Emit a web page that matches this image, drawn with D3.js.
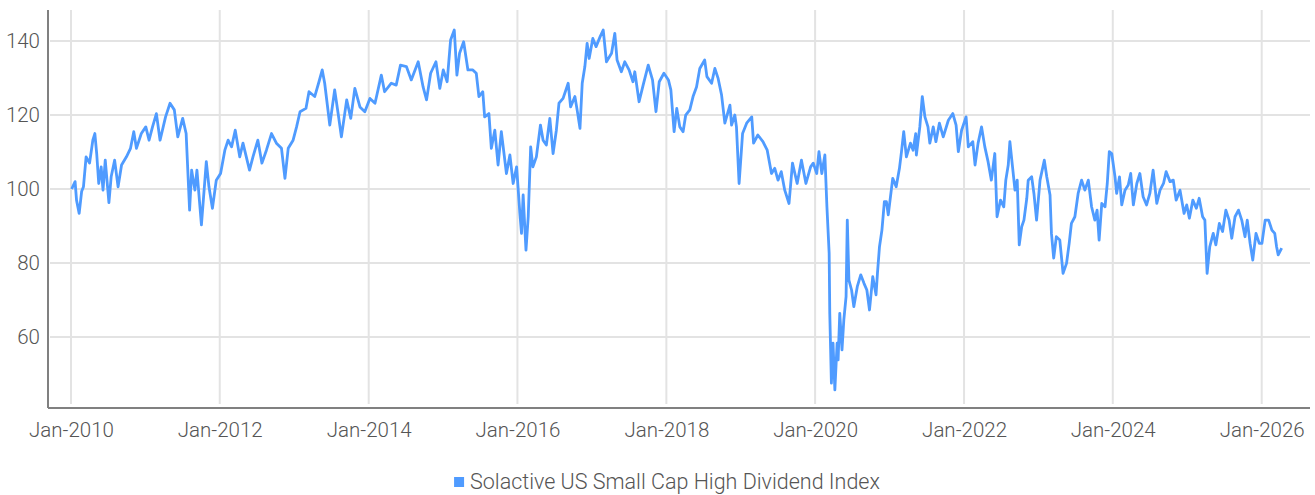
<!DOCTYPE html>
<html>
<head>
<meta charset="utf-8">
<script src="https://cdn.jsdelivr.net/npm/d3@7"></script>
<style>
  body { margin: 0; background: #fff; }
  text { font-family: Roboto, "Open Sans", sans-serif; font-weight: 300; fill: #555; }
</style>
</head>
<body>
<div id="chart"></div>
<script>
// series name
const seriesName = "Solactive US Small Cap High Dividend Index";

// dates of the points
const dates = [
  "2010-01-04","2010-01-21","2010-01-28","2010-02-10","2010-02-22","2010-03-03","2010-03-16","2010-04-02","2010-04-18","2010-04-28",
  "2010-05-07","2010-05-17","2010-05-29","2010-06-07","2010-06-18","2010-07-06","2010-07-17","2010-08-03","2010-08-20","2010-09-06",
  "2010-09-30","2010-10-20","2010-11-05","2010-11-18","2010-12-12","2011-01-03","2011-01-19","2011-02-05","2011-02-24","2011-03-14",
  "2011-04-10","2011-05-02","2011-05-23","2011-06-09","2011-07-03","2011-07-20","2011-08-06","2011-08-16","2011-09-01","2011-09-11",
  "2011-10-03","2011-10-27","2011-11-09","2011-11-26","2011-12-15","2012-01-05","2012-01-26","2012-02-11","2012-02-28","2012-03-17",
  "2012-04-08","2012-04-24","2012-05-26","2012-06-12","2012-07-06","2012-07-26","2012-08-17","2012-09-11","2012-10-05","2012-10-30",
  "2012-11-16","2012-12-02","2012-12-26","2013-01-12","2013-01-29","2013-02-27","2013-03-14","2013-04-11","2013-05-02","2013-05-18",
  "2013-05-30","2013-06-24","2013-07-18","2013-08-04","2013-08-20","2013-09-15","2013-10-05","2013-10-25","2013-11-19","2013-12-13",
  "2014-01-07","2014-02-01","2014-03-04","2014-03-20","2014-04-22","2014-05-16","2014-06-06","2014-07-05","2014-07-29","2014-09-01",
  "2014-09-25","2014-10-12","2014-11-01","2014-11-27","2014-12-16","2015-01-02","2015-01-21","2015-02-07","2015-02-25","2015-03-10",
  "2015-03-23","2015-04-12","2015-05-03","2015-05-27","2015-06-13","2015-06-26","2015-07-15","2015-07-24","2015-08-14","2015-08-26",
  "2015-09-12","2015-09-28","2015-10-14","2015-11-08","2015-11-25","2015-12-11","2015-12-28","2016-01-13","2016-01-21","2016-01-29",
  "2016-02-12","2016-02-23","2016-03-06","2016-03-17","2016-04-03","2016-04-23","2016-05-06","2016-05-22","2016-06-08","2016-06-24",
  "2016-07-10","2016-07-23","2016-08-12","2016-09-06","2016-09-18","2016-10-09","2016-10-20","2016-11-03","2016-11-14","2016-11-27",
  "2016-12-08","2016-12-18","2017-01-05","2017-01-21","2017-02-10","2017-02-25","2017-03-13","2017-04-07","2017-04-23","2017-05-04",
  "2017-05-25","2017-06-11","2017-07-02","2017-07-21","2017-07-30","2017-08-20","2017-09-09","2017-10-04","2017-10-25","2017-11-11",
  "2017-11-27","2017-12-20","2018-01-11","2018-01-23","2018-02-08","2018-02-21","2018-03-08","2018-03-24","2018-04-06","2018-04-26",
  "2018-05-12","2018-05-29","2018-06-14","2018-07-08","2018-07-19","2018-08-11","2018-08-27","2018-09-12","2018-09-29","2018-10-15",
  "2018-11-09","2018-11-17","2018-12-03","2018-12-11","2018-12-24","2019-01-10","2019-01-30","2019-02-24","2019-03-05","2019-03-26",
  "2019-04-20","2019-05-11","2019-06-01","2019-06-17","2019-07-03","2019-07-19","2019-08-05","2019-08-26","2019-09-12","2019-10-05",
  "2019-10-26","2019-11-17","2019-12-10","2019-12-23","2020-01-09","2020-01-20","2020-02-03","2020-02-18","2020-02-28","2020-03-10",
  "2020-03-13","2020-03-21","2020-03-29","2020-04-07","2020-04-18","2020-04-23","2020-05-01","2020-05-12","2020-05-21","2020-06-01",
  "2020-06-07","2020-06-15","2020-06-28","2020-07-09","2020-07-26","2020-08-12","2020-08-28","2020-09-11","2020-09-24","2020-10-10",
  "2020-10-26","2020-11-02","2020-11-12","2020-11-24","2020-12-06","2020-12-16","2020-12-25","2021-01-16","2021-02-02","2021-02-18",
  "2021-02-28","2021-03-11","2021-03-24","2021-04-13","2021-04-26","2021-05-09","2021-05-12","2021-05-29","2021-06-10","2021-06-23",
  "2021-07-08","2021-07-17","2021-08-03","2021-08-16","2021-09-02","2021-09-21","2021-10-16","2021-11-07","2021-11-23","2021-12-04",
  "2021-12-20","2022-01-11","2022-01-22","2022-02-13","2022-02-24","2022-03-11","2022-03-28","2022-04-13","2022-04-29","2022-05-15",
  "2022-06-01","2022-06-12","2022-06-29","2022-07-15","2022-07-25","2022-08-06","2022-08-14","2022-08-27","2022-09-08","2022-09-19",
  "2022-09-29","2022-10-11","2022-10-22","2022-11-05","2022-11-12","2022-11-29","2022-12-10","2022-12-23","2023-01-09","2023-01-30",
  "2023-02-11","2023-02-27","2023-03-06","2023-03-17","2023-03-30","2023-04-16","2023-05-02","2023-05-19","2023-06-01","2023-06-12",
  "2023-06-29","2023-07-15","2023-08-01","2023-08-17","2023-09-03","2023-09-19","2023-10-05","2023-10-16","2023-10-26","2023-11-08",
  "2023-11-24","2023-12-05","2023-12-15","2023-12-27","2024-01-12","2024-01-20","2024-02-03","2024-02-14","2024-03-01","2024-03-17",
  "2024-03-29","2024-04-11","2024-04-28","2024-05-13","2024-05-29","2024-06-15","2024-07-01","2024-07-17","2024-08-04","2024-08-20",
  "2024-09-06","2024-09-19","2024-10-08","2024-10-24","2024-11-07","2024-11-26","2024-12-16","2024-12-29","2025-01-11","2025-01-28",
  "2025-02-14","2025-02-28","2025-03-17","2025-03-28","2025-04-08","2025-04-21","2025-05-08","2025-05-21","2025-06-07","2025-06-23",
  "2025-07-09","2025-07-25","2025-08-07","2025-08-23","2025-09-09","2025-09-25","2025-10-11","2025-10-22","2025-11-05","2025-11-18",
  "2025-12-04","2025-12-20","2026-01-02","2026-01-18","2026-02-04","2026-02-20","2026-03-06","2026-03-15","2026-03-23","2026-04-09"
];

// index values
const values = [
  100,102,97,93.4,99.3,100.6,108.7,107,113.2,115,
  109.6,101.5,106,99.7,107.8,96.3,103.3,107.8,100.6,106.5,
  108.7,111,115.5,111,115,116.8,113.2,116.8,120.4,113.2,
  119.5,123.2,121.4,114.1,119.1,115,94.3,105.1,99.7,105.1,
  90.3,107.4,100.6,94.8,102.4,104.2,110.5,113.2,111.4,115.9,
  108.7,112.4,105.1,108.7,113.2,107,110.5,115,112.4,111,
  102.9,111,113.2,116.8,120.9,121.8,126.3,125,129,132.2,
  128.6,117.3,126.8,120.4,114.1,124.1,119.1,127.2,122.2,120.9,
  124.5,123.2,130.8,126.3,128.6,128.1,133.5,133.1,129.5,134.4,
  127.6,124.1,131.3,134.4,127.2,132.2,129,140.3,143,130.8,
  136.7,139.8,132.2,132.2,131.3,125,126.3,119.5,120.4,111,
  115.9,106.5,115.5,104.2,109.2,101.5,106,93.4,88,98.4,
  83.5,92.5,111.4,106,108.7,117.3,113.2,111.9,119.1,109.6,
  115.9,123.2,124.5,128.6,122.2,125,121.4,116.4,128.6,133.1,
  139.4,135.3,140.7,138.5,141.2,143,134.4,136.7,142.1,134.9,
  131.7,134.4,132.2,129,131.7,123.6,128.1,133.5,129.5,120.9,
  129,131.3,129.5,126.8,115.5,121.8,116.8,115.5,120,121.4,
  125,127.6,132.6,134.9,130.4,128.6,132.6,129.9,125.4,117.8,
  122.7,117.3,120,116.8,101.5,115,117.8,119.5,112.4,114.6,
  112.8,110.5,104.2,105.6,102.4,104.7,99.7,96.1,107,101.5,
  107.8,101.5,106,107,104.2,110.1,104.2,109.2,95.2,82.6,
  66.4,47.5,58.3,45.7,58.3,53.8,66.4,56.5,64.6,70.9,
  91.6,75.4,72.7,68.2,73.6,76.8,74.5,72.7,67.3,76.3,
  71.4,77.2,84.4,88.9,96.6,96.6,93,102.9,100.6,105.6,
  110.1,115.5,108.7,112.4,110.5,115,109.2,116.8,125,119.5,
  116.8,112.4,116.8,112.8,117.8,114.1,118.6,120.4,117.3,110.1,
  115.9,119.5,111.4,112.8,106.5,112.4,116.8,111.4,107.4,102.4,
  109.6,92.5,97,95.2,102.4,106.5,112.8,106,99.7,102.4,
  84.9,89.8,91.6,97.5,102.4,103.3,98.8,91.6,102.4,107.8,
  103.3,98.4,88,81.3,87.1,86.2,77.2,79.9,85.3,90.7,
  92.5,98.8,102.4,99.7,102.4,95.2,91.6,94.3,86.2,96.1,
  95.2,101.5,110.1,109.6,103.3,98.8,103.3,95.7,99.7,101.1,
  104.2,95.7,101.5,104.2,97.9,95.7,98.8,105.1,96.1,99.7,
  101.5,104.7,102,102.4,97,99.7,93.4,95.7,92.1,97,
  94.8,97.5,92.5,91.6,77.2,84.4,88,84.9,90.7,88.5,
  94.3,91.6,86.7,92.5,94.3,91.6,87.1,91.6,85.3,80.8,
  88,85.3,85.3,91.6,91.6,88.9,88,84.4,82.2,84
];

// y tick values
const yTicks = [60, 80, 100, 120, 140];

const width = 1315, height = 495;
const mLeft = 48, mRight = 1310, mTop = 10, mBottom = 408;

const parse = d3.timeParse("%Y-%m-%d");
const data = dates.map(function (d, i) { return { date: parse(d), value: values[i] }; });

const svg = d3.select("#chart")
  .append("svg")
  .attr("width", width)
  .attr("height", height);

const x = d3.scaleTime()
  .domain([new Date(2009, 8, 10), new Date(2026, 7, 26)])
  .range([mLeft, mRight]);

const y = d3.scaleLinear()
  .domain([40.8, 148.4])
  .range([mBottom, mTop]);

const xTicks = d3.timeYear.every(2).range(new Date(2010, 0, 1), new Date(2026, 1, 1));

// horizontal grid
svg.append("g")
  .selectAll("line")
  .data(yTicks)
  .enter().append("line")
  .attr("x1", mLeft + 2)
  .attr("x2", mRight)
  .attr("y1", function (d) { return y(d); })
  .attr("y2", function (d) { return y(d); })
  .style("stroke", "#e3e3e3")
  .style("stroke-width", 2);

// vertical grid
svg.append("g")
  .selectAll("line")
  .data(xTicks)
  .enter().append("line")
  .attr("x1", function (d) { return x(d); })
  .attr("x2", function (d) { return x(d); })
  .attr("y1", mTop)
  .attr("y2", mBottom - 4)
  .style("stroke", "#e3e3e3")
  .style("stroke-width", 2);

// y axis
const yAxis = svg.append("g")
  .attr("transform", "translate(" + mLeft + ",0)")
  .call(d3.axisLeft(y).tickValues(yTicks).tickSize(0).tickPadding(8));
yAxis.select(".domain").remove();
yAxis.selectAll("text")
  .style("font-size", "20.5px")
  .style("font-family", "Roboto, sans-serif")
  .style("font-weight", 300)
  .attr("fill", "#555");

svg.append("line")
  .attr("x1", mLeft).attr("x2", mLeft)
  .attr("y1", mTop).attr("y2", mBottom)
  .style("stroke", "#808080")
  .style("stroke-width", 2);

// x axis
const xAxis = svg.append("g")
  .attr("transform", "translate(0," + mBottom + ")")
  .call(d3.axisBottom(x).tickValues(xTicks).tickFormat(d3.timeFormat("%b-%Y")).tickSize(0).tickPadding(14));
xAxis.select(".domain").remove();
xAxis.selectAll("text")
  .style("font-size", "20.5px")
  .style("font-family", "Roboto, sans-serif")
  .style("font-weight", 300)
  .attr("fill", "#555");

svg.append("line")
  .attr("x1", mLeft).attr("x2", mRight)
  .attr("y1", mBottom).attr("y2", mBottom)
  .style("stroke", "#808080")
  .style("stroke-width", 2);

// the series
const line = d3.line()
  .x(function (d) { return x(d.date); })
  .y(function (d) { return y(d.value); });

svg.append("path")
  .datum(data)
  .attr("d", line)
  .style("fill", "none")
  .style("stroke", "#4f9bff")
  .style("stroke-width", 2.8)
  .style("stroke-linejoin", "round");

// legend
const legend = svg.append("g");
legend.append("rect")
  .attr("x", 0).attr("y", -12)
  .attr("width", 10).attr("height", 10)
  .style("fill", "#4f9bff");
const lt = legend.append("text")
  .attr("x", 16).attr("y", 0)
  .style("font-size", "21.5px")
  .text(seriesName);
const lw = 16 + lt.node().getComputedTextLength();
legend.attr("transform", "translate(" + (667 - lw / 2) + ",489)");
</script>
</body>
</html>
